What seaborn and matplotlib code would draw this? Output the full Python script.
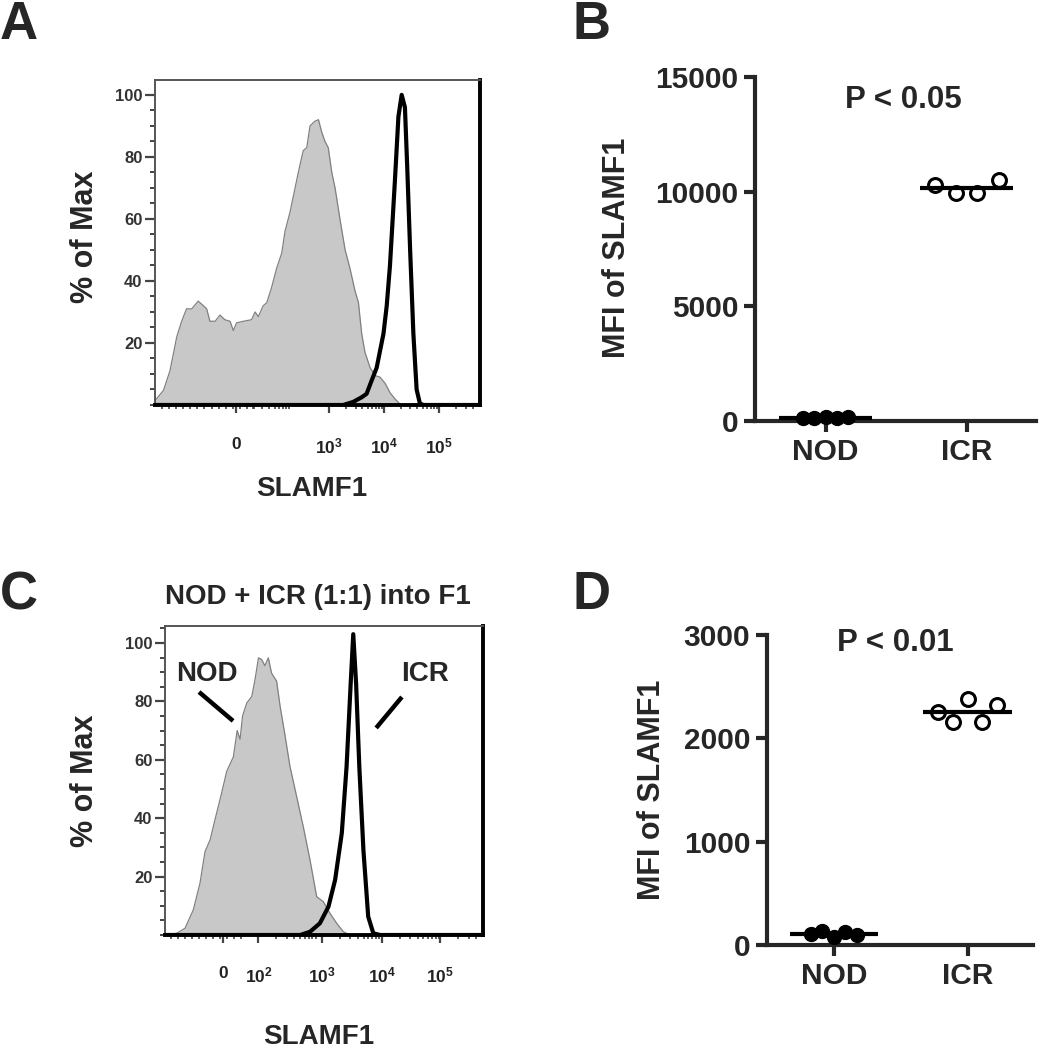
import numpy as np
import pandas as pd
import matplotlib
matplotlib.use("Agg")
import matplotlib.pyplot as plt
import seaborn as sns

sns.set_style("ticks")
plt.rcParams["font.family"] = ["Liberation Sans", "DejaVu Sans"]
plt.rcParams["font.weight"] = "bold"
plt.rcParams["axes.labelweight"] = "bold"
plt.rcParams["mathtext.fontset"] = "custom"
plt.rcParams["mathtext.rm"] = "Liberation Sans"
plt.rcParams["mathtext.bf"] = "Liberation Sans:bold"

# ---- histograms: x is display channel (0-1000 across the plot), y is % of max ----
A_grey_ch = [0, 26, 46, 67, 82, 97, 113, 133, 149, 159, 169, 185, 200, 215, 231, 241, 251,
             272, 297, 308, 318, 333, 344, 359, 374, 390, 400, 415, 431, 441, 456, 467, 477,
             492, 503, 513, 523, 533, 544, 554, 569, 585, 600, 615, 626, 636, 646, 662, 677,
             692, 708, 723, 738, 754]
A_grey_pct = [1.4, 4.7, 11, 22, 27, 31, 31, 33.5, 32, 31, 27, 27, 29, 27.5, 27, 24, 26.5,
              27, 27.5, 30, 28.5, 32, 33, 38, 44, 49, 56, 62, 70, 75, 82, 83, 90,
              91.5, 92, 88, 85, 83, 75, 70, 60, 50, 44, 37, 33, 23, 17, 12, 9.5,
              9, 7, 4, 2, 0.3]
A_black_ch = [0, 579, 610, 636, 651, 667, 682, 703, 713, 723, 738, 749, 759, 769, 776, 785,
              795, 805, 815, 826, 1000]
A_black_pct = [0, 0, 1, 2.5, 3.6, 8, 12, 23, 32, 45, 72, 93, 100, 96, 77, 50,
               23, 5, 0.5, 0, 0]
A_tick_pos = [249, 536, 705, 875]
A_tick_lab = ["0", r"$\mathbf{10^{3}}$", r"$\mathbf{10^{4}}$", r"$\mathbf{10^{5}}$"]

C_grey_ch = [0, 5, 37, 63, 89, 110, 126, 142, 157, 178, 194, 215, 227, 236, 244, 257, 273,
             283, 294, 304, 314, 325, 335, 351, 362, 377, 393, 414, 435, 456, 477, 498,
             519, 540, 561, 582]
C_grey_pct = [0, 0, 0.6, 2.3, 8.6, 17.7, 28.6, 32.6, 39.4, 48.6, 56, 61, 70, 67, 75, 79.4, 81.7,
              87.4, 94.9, 94.3, 92.2, 94.9, 89.7, 86.9, 78.3, 68.6, 57.7, 47.4, 37, 25.7, 13.1, 11.4,
              7.4, 4, 1.1, 0]
C_black_ch = [0, 425, 456, 487, 514, 535, 556, 571, 584, 592, 601, 611, 624, 639, 655, 676, 1000]
C_black_pct = [0, 0, 1.1, 4, 9.7, 18.9, 34.9, 57.7, 86.3, 103, 86, 57.7, 29, 6.3, 0.6, 0, 0]
C_tick_pos = [183, 294, 493, 681, 865]
C_tick_lab = ["0", r"$\mathbf{10^{2}}$", r"$\mathbf{10^{3}}$", r"$\mathbf{10^{4}}$",
              r"$\mathbf{10^{5}}$"]

# ---- MFI dot plots ----
groups = ["NOD", "ICR"]
B_nod = [150, 140, 160, 145, 155]
B_icr = [10300, 9950, 9950, 10500]
D_nod = [106, 135, 80, 130, 95]
D_icr = [2258, 2161, 2381, 2161, 2323]

W, H = 1039, 1050
fig = plt.figure(figsize=(W / 100, H / 100), dpi=100)


def box(l, t, r, b):
    return fig.add_axes([l / W, 1 - b / H, (r - l) / W, (b - t) / H])


def draw_hist(ax, gch, gpct, bch, bpct, ymax, tpos, tlab, decade_w, pad):
    ax.fill_between(gch, gpct, color="#c8c8c8", lw=0, zorder=1)
    sns.lineplot(x=gch, y=gpct, color="#808080", lw=0.9, sort=False, estimator=None, ax=ax, zorder=2)
    sns.lineplot(x=bch, y=bpct, color="black", lw=3.0, sort=False, estimator=None, ax=ax, zorder=3)
    ax.set_xlim(0, 1000)
    ax.set_ylim(0, ymax)
    ax.set_yticks([20, 40, 60, 80, 100])
    ax.yaxis.set_minor_locator(matplotlib.ticker.MultipleLocator(5))
    ax.set_xticks(tpos, tlab)
    minors = [p + decade_w * np.log10(m) for p in tpos[-4:] for m in range(2, 10)]
    minors += list(np.arange(20, tpos[0] + 60, 22))
    ax.set_xticks([m for m in minors if m < 990], minor=True)
    ax.tick_params(axis="y", which="major", length=7, width=1.6, color="#444", labelsize=12,
                   labelcolor="#333", pad=2)
    ax.tick_params(axis="y", which="minor", length=3.5, width=1.4, color="#444")
    ax.tick_params(axis="x", which="major", length=6, width=1.6, color="#444", labelsize=12.5,
                   labelcolor="#222", pad=pad)
    ax.tick_params(axis="x", which="minor", length=3, width=1.2, color="#444")
    for s in ["left", "top"]:
        ax.spines[s].set_color("#555")
        ax.spines[s].set_linewidth(1.4)
    for s in ["right", "bottom"]:
        ax.spines[s].set_color("black")
        ax.spines[s].set_linewidth(2.8)
        ax.spines[s].set_visible(True)
    ax.spines["top"].set_visible(True)


def draw_dots(ax, nod, icr, steps, ymax, ystep, ptext, px, py):
    rows = []
    for gi, (vals, step) in enumerate(zip([nod, icr], steps)):
        n = len(vals)
        for k, v in enumerate(vals):
            rows.append({"group": groups[gi], "x": gi + (k - (n - 1) / 2) * step, "mfi": v})
    df = pd.DataFrame(rows)
    sns.scatterplot(data=df[df.group == "NOD"], x="x", y="mfi", color="black", edgecolor="black",
                    s=100, linewidth=1, ax=ax, zorder=4, clip_on=False)
    sns.scatterplot(data=df[df.group == "ICR"], x="x", y="mfi", color="white", edgecolor="black",
                    s=100, linewidth=2.2, ax=ax, zorder=4, clip_on=False)
    means = df.groupby("group", sort=False)["mfi"].mean()
    for gi, g in enumerate(groups):
        ax.hlines(means[g], gi - 0.33, gi + 0.33, color="black", lw=3, zorder=5)
    ax.set_xlim(-0.5, 1.49)
    ax.set_ylim(0, ymax)
    ax.set_yticks(np.arange(0, ymax + 1, ystep))
    ax.set_xticks([0, 1], groups)
    ax.set_xlabel("")
    ax.set_ylabel("MFI of SLAMF1", fontsize=22)
    sns.despine(ax=ax)
    for s in ["left", "bottom"]:
        ax.spines[s].set_linewidth(3)
    ax.tick_params(axis="both", width=3, length=8, labelsize=21.5, pad=4)
    ax.text(px, py, ptext, transform=ax.transAxes, ha="center", va="center", fontsize=22.5)


# panel A
axA = box(155, 80, 480, 405)
draw_hist(axA, A_grey_ch, A_grey_pct, A_black_ch, A_black_pct, 104.8, A_tick_pos, A_tick_lab, 170, 17)
axA.set_ylabel("% of Max", fontsize=22)
axA.yaxis.set_label_coords(-0.215, 0.517)
axA.yaxis.label.set_va("center")
axA.set_xlabel("SLAMF1", fontsize=20)
axA.xaxis.set_label_coords(0.483, -0.26)
axA.xaxis.label.set_va("center")

# panel B
axB = box(755, 77, 1036, 421)
draw_dots(axB, B_nod, B_icr, [0.08, 0.15], 15000, 5000, "P < 0.05", 0.527, 0.933)
axB.yaxis.set_label_coords(-0.49, 0.503)
axB.yaxis.label.set_va("center")

# panel C
axC = box(165, 626, 483, 935)
draw_hist(axC, C_grey_ch, C_grey_pct, C_black_ch, C_black_pct, 105.8, C_tick_pos, C_tick_lab, 188, 16)
axC.set_ylabel("% of Max", fontsize=22)
axC.yaxis.set_label_coords(-0.252, 0.5)
axC.yaxis.label.set_va("center")
axC.set_xlabel("SLAMF1", fontsize=20)
axC.xaxis.set_label_coords(0.484, -0.33)
axC.xaxis.label.set_va("center")
axC.text(0.481, 1.094, "NOD + ICR (1:1) into F1", transform=axC.transAxes, ha="center",
         va="center", fontsize=20)
axC.text(132, 89.5, "NOD", ha="center", va="center", fontsize=20)
axC.text(818, 89.2, "ICR", ha="center", va="center", fontsize=20)
axC.plot([107, 214], [83.2, 73.3], color="black", lw=3.2, solid_capstyle="butt")
axC.plot([745, 664], [81.5, 70.9], color="black", lw=3.2, solid_capstyle="butt")

# panel D
axD = box(767, 635, 1033, 945)
draw_dots(axD, D_nod, D_icr, [0.085, 0.11], 3000, 1000, "P < 0.01", 0.481, 0.974)
axD.yaxis.set_label_coords(-0.432, 0.5)
axD.yaxis.label.set_va("center")

for lab, x, y in [("A", 0.0, 1.0), ("B", 0.551, 1.0), ("C", 0.0, 0.457), ("D", 0.551, 0.457)]:
    fig.text(x, y, lab, fontsize=38, fontweight="bold", ha="left", va="top")

fig.savefig("out.png", dpi=100)
